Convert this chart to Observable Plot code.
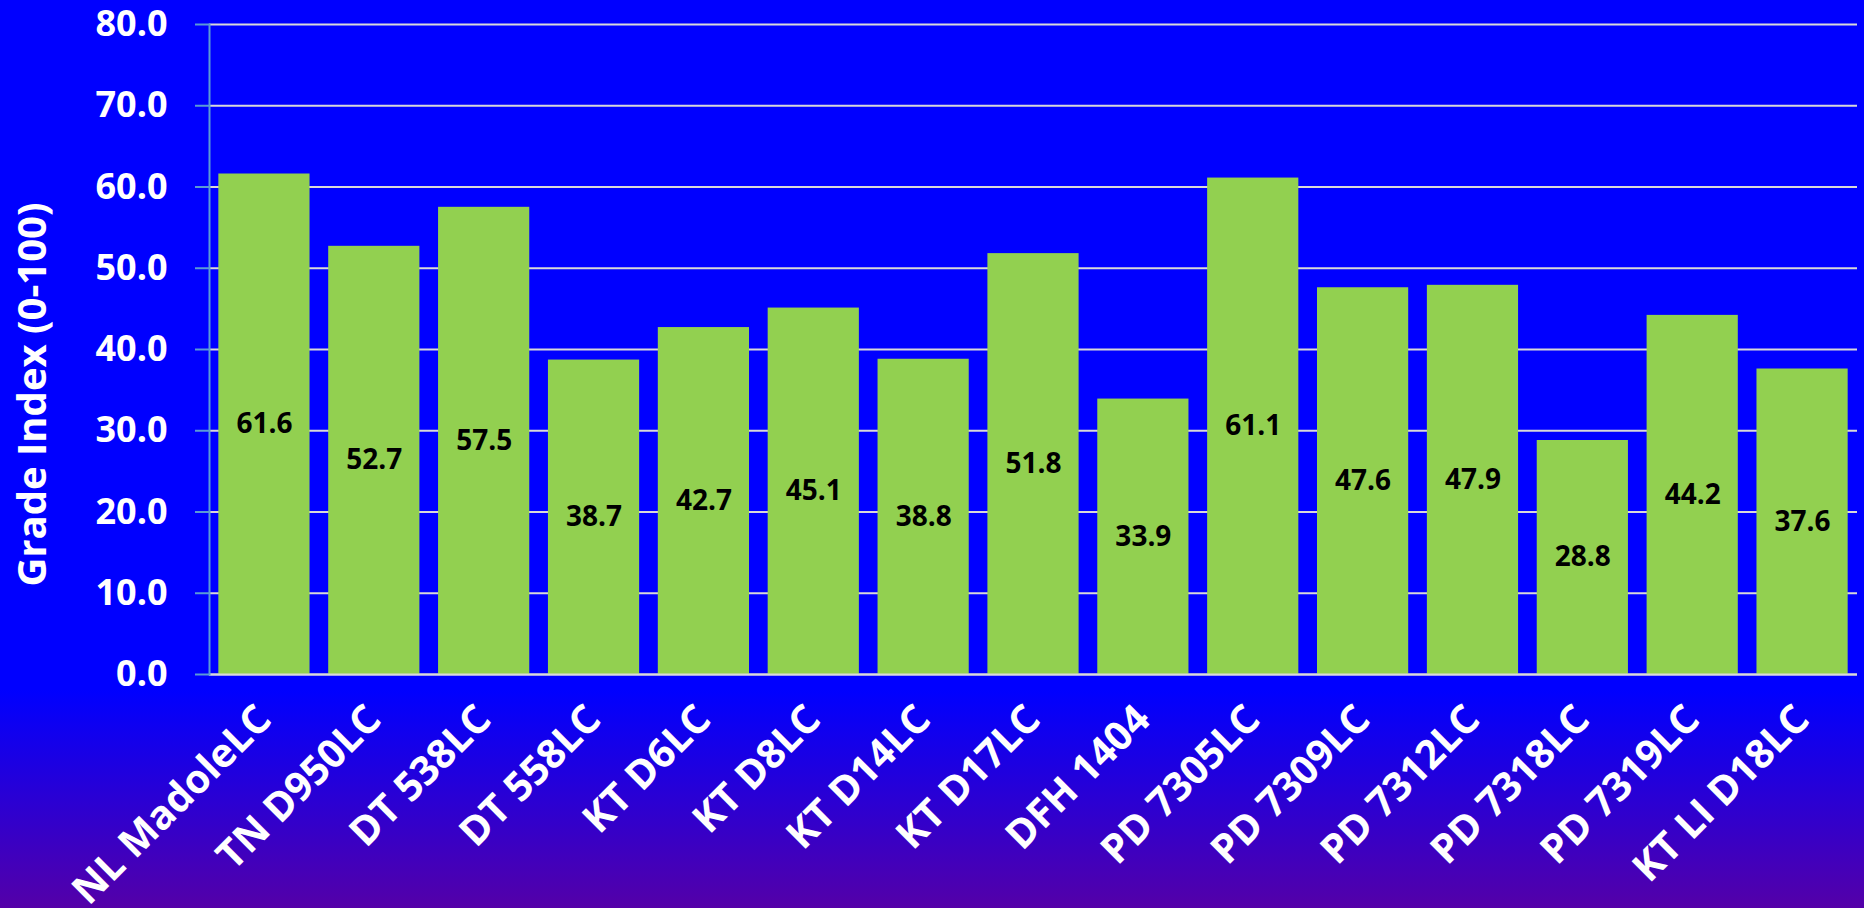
<!DOCTYPE html>
<html>
<head>
<meta charset="utf-8">
<script src="https://cdn.jsdelivr.net/npm/d3@7"></script>
<script src="https://cdn.jsdelivr.net/npm/@observablehq/plot@0.6"></script>
<style>
  html, body { margin: 0; padding: 0; width: 1864px; height: 908px; overflow: hidden; }
  body { background: linear-gradient(to bottom, #0000FF 0%, #0000FF 76%, #5400A8 100%); font-family: "Open Sans", sans-serif; }
  #chart svg { display: block; background: transparent; }
</style>
</head>
<body>
<div id="chart"></div>
<script>
const categories = ["NL MadoleLC", "TN D950LC", "DT 538LC", "DT 558LC", "KT D6LC", "KT D8LC", "KT D14LC", "KT D17LC", "DFH 1404", "PD 7305LC", "PD 7309LC", "PD 7312LC", "PD 7318LC", "PD 7319LC", "KT LI D18LC"];
const values = [61.6, 52.7, 57.5, 38.7, 42.7, 45.1, 38.8, 51.8, 33.9, 61.1, 47.6, 47.9, 28.8, 44.2, 37.6];
const yTicks = [0, 10, 20, 30, 40, 50, 60, 70, 80];
const yTitle = "Grade Index (0-100)";

const data = categories.map((c, i) => ({cat: c, v: values[i]}));

const chart = Plot.plot({
  width: 1864,
  height: 908,
  marginLeft: 209,
  marginRight: 7,
  marginTop: 24,
  marginBottom: 234,
  style: {background: "transparent", fontFamily: "'Open Sans', sans-serif"},
  x: {domain: categories, paddingInner: 0.17, paddingOuter: 0.085, round: false, label: null},
  y: {domain: [0, 80], label: null},
  marks: [
    Plot.gridY(yTicks, {stroke: "#D9D9D9", strokeOpacity: 1, strokeWidth: 2}),
    Plot.barY(data, {x: "cat", y: "v", fill: "#92D050"}),
    Plot.ruleY([0], {stroke: "#D9D9D9", strokeWidth: 2}),
    Plot.frame({anchor: "left", stroke: "#5B9BD5", strokeWidth: 2}),
    Plot.axisY(yTicks, {tickSize: 14, tickPadding: 28, stroke: "#5B9BD5", strokeWidth: 2, tickFormat: d3.format(".1f"), fill: "white", fontSize: 36, fontWeight: "bold", label: null}),
    Plot.axisX({tickSize: 0, tickPadding: 38, tickRotate: -45, fill: "white", fontSize: 40, fontWeight: "bold", label: null}),
    Plot.text(data, {x: "cat", y: d => d.v / 2, text: d => d3.format(".1f")(d.v), fill: "black", fontSize: 28, fontWeight: "bold"}),
    Plot.text([yTitle], {frameAnchor: "left", textAnchor: "middle", rotate: -90, dx: -176, dy: 45, fill: "white", fontSize: 40, fontWeight: "bold"})
  ]
});
document.getElementById("chart").appendChild(chart);
</script>
</body>
</html>
